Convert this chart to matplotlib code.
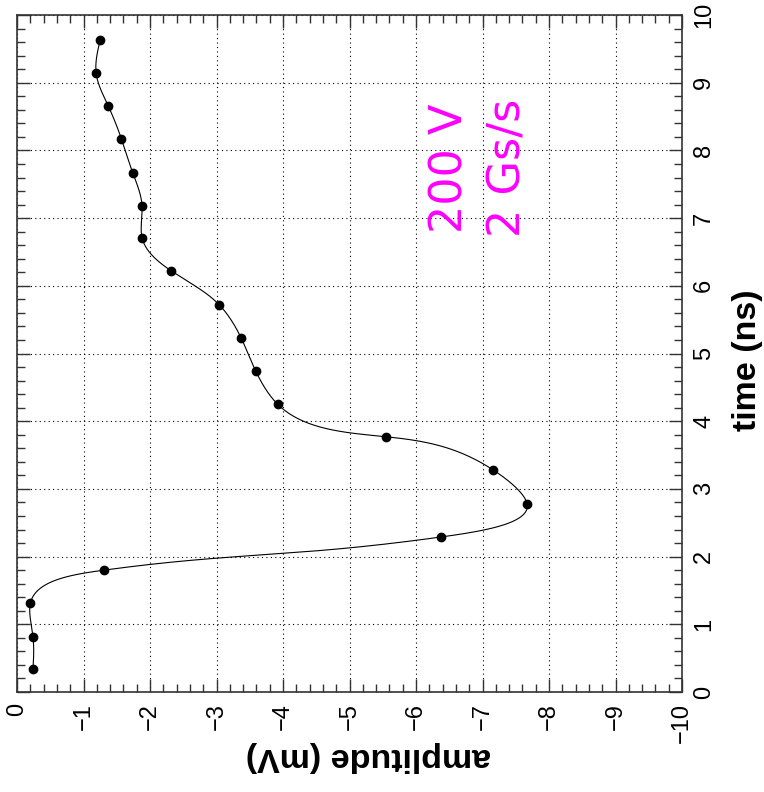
import matplotlib.pyplot as plt
import numpy as np
from matplotlib.ticker import MultipleLocator

plt.rcParams.update({
    'font.family': 'Liberation Sans',
    'font.size': 17,
})

time_ns = [0.34, 0.81, 1.31, 1.80, 2.29, 2.78, 3.28, 3.77, 4.25, 4.74,
           5.23, 5.72, 6.22, 6.71, 7.18, 7.67, 8.17, 8.66, 9.14, 9.63]
amp_mv = [-0.24, -0.24, -0.20, -1.31, -6.38, -7.67, -7.16, -5.55, -3.92, -3.59,
          -3.37, -3.04, -2.32, -1.88, -1.88, -1.74, -1.57, -1.37, -1.19, -1.25]

amp_ticks = [0, -1, -2, -3, -4, -5, -6, -7, -8, -9, -10]
time_ticks = [0, 1, 2, 3, 4, 5, 6, 7, 8, 9, 10]
notes = ['200 V', '2 Gs/s']


def natural_spline(s, v, s_new):
    n = len(s)
    h = np.diff(s)
    A = np.zeros((n, n))
    r = np.zeros(n)
    A[0, 0] = A[-1, -1] = 1
    for i in range(1, n - 1):
        A[i, i - 1] = h[i - 1]
        A[i, i] = 2 * (h[i - 1] + h[i])
        A[i, i + 1] = h[i]
        r[i] = 3 * ((v[i + 1] - v[i]) / h[i] - (v[i] - v[i - 1]) / h[i - 1])
    c = np.linalg.solve(A, r)
    b = (v[1:] - v[:-1]) / h - h * (2 * c[:-1] + c[1:]) / 3
    d = (c[1:] - c[:-1]) / (3 * h)
    idx = np.clip(np.searchsorted(s, s_new, side='right') - 1, 0, n - 2)
    dx = s_new - s[idx]
    return v[idx] + b[idx] * dx + c[idx] * dx ** 2 + d[idx] * dx ** 3


# smooth parametric curve through the points (like ROOT's "C" draw option)
t = np.array(time_ns)
a = np.array(amp_mv)
s = np.concatenate([[0], np.cumsum(np.hypot(np.diff(t), np.diff(a)))])
s_fine = np.linspace(s[0], s[-1], 2000)
t_fine = natural_spline(s, t, s_fine)
a_fine = natural_spline(s, a, s_fine)

fig = plt.figure(figsize=(7.64, 7.92), dpi=100)
ax = fig.add_axes([0.0223, 0.1263, 0.8704, 0.8547])

ax.plot(a_fine, t_fine, color='black', linewidth=0.8)
ax.plot(amp_mv, time_ns, 'o', color='black', markersize=6)

ax.set_xlim(0, -10)
ax.set_ylim(0, 10)
ax.set_xticks(amp_ticks)
ax.set_yticks(time_ticks)
ax.xaxis.set_minor_locator(MultipleLocator(0.2))
ax.yaxis.set_minor_locator(MultipleLocator(0.2))

ax.grid(True, which='major', linestyle=(0, (1, 3)), color='black', linewidth=0.8)
ax.tick_params(which='both', direction='in', top=True, bottom=True, left=True, right=True,
               labelleft=False, labelright=True, color='#333333', width=1)
ax.tick_params(which='major', length=9.5)
ax.tick_params(which='minor', length=5.5)
ax.tick_params(axis='x', pad=8, labelrotation=90)
ax.tick_params(axis='y', pad=8, labelrotation=90)
for lbl in ax.get_yticklabels():
    lbl.set_verticalalignment('center')
for sp in ax.spines.values():
    sp.set_linewidth(1.2)
    sp.set_color('#333333')

fig.text(0.4817, 0.0442, 'amplitude (mV)', rotation=180, ha='center', va='center',
         fontsize=24.5, fontweight='bold')
fig.text(0.979, 0.5455, 'time (ns)', rotation=90, ha='center', va='center',
         fontsize=24.5, fontweight='bold')

ax.text(-6.51, 7.74, notes[0], rotation=90, ha='center', va='center',
        fontsize=32, color='#ff00ff', family='DejaVu Sans')
ax.text(-7.38, 7.74, notes[1], rotation=90, ha='center', va='center',
        fontsize=32, color='#ff00ff', family='DejaVu Sans')

fig.savefig('out.png', dpi=100)
